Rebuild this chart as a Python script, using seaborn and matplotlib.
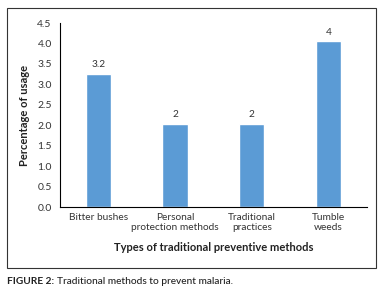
import numpy as np
import pandas as pd
import matplotlib

matplotlib.use("Agg")
import matplotlib.pyplot as plt
import seaborn as sns
from matplotlib.patches import Rectangle

methods = ["Bitter bushes", "Personal\nprotection methods", "Traditional\npractices", "Tumble\nweeds"]
usage = [3.25, 2.03, 2.03, 4.05]
value_labels = ["3.2", "2", "2", "4"]
y_ticks = [0.0, 0.5, 1.0, 1.5, 2.0, 2.5, 3.0, 3.5, 4.0, 4.5]

sns.set_theme(style="white")
plt.rcParams["font.family"] = ["Lato", "DejaVu Sans"]

df = pd.DataFrame({"method": methods, "usage": usage})

fig = plt.figure(figsize=(3.85, 2.95), dpi=100)
ax = fig.add_axes([0.156, 0.298, 0.797, 0.624])

sns.barplot(data=df, x="method", y="usage", color="#5B9BD5", width=0.33,
            saturation=1, ax=ax)

for i, (v, lab) in enumerate(zip(usage, value_labels)):
    ax.text(i, v + 0.12, lab, ha="center", va="bottom", fontsize=7.3, color="#333333")

ax.set_ylim(0, 4.5)
ax.set_xlim(-0.5, 3.5)
ax.set_yticks(y_ticks)
ax.set_yticklabels([f"{t:.1f}" for t in y_ticks], fontsize=7.5, color="#333333")

# category labels on minor ticks, tick marks at category boundaries
ax.set_xticks(np.arange(-0.5, 4, 1))
ax.set_xticklabels([])
ax.set_xticks(range(len(methods)), minor=True)
ax.set_xticklabels(methods, minor=True, fontsize=7.3, color="#333333", linespacing=1.25)
ax.tick_params(axis="x", which="minor", length=0, pad=4)
ax.tick_params(axis="x", which="major", length=4, width=0.8, color="black", direction="out")
ax.tick_params(axis="y", length=4, width=0.8, color="black", direction="out", pad=2)

for s in ["top", "right"]:
    ax.spines[s].set_visible(False)
for s in ["left", "bottom"]:
    ax.spines[s].set_color("black")
    ax.spines[s].set_linewidth(0.8)

ax.set_xlabel("Types of traditional preventive methods", fontsize=8, fontweight="bold",
              color="#222222", labelpad=7)
ax.set_ylabel("Percentage of usage", fontsize=8, fontweight="bold", color="#222222",
              labelpad=5)

fig.patches.append(Rectangle((7 / 385, 1 - 268 / 295), 369 / 385, 260 / 295,
                             transform=fig.transFigure, fill=False,
                             edgecolor="#333333", linewidth=0.8))

cap1 = fig.text(7 / 385, 1 - 281 / 295, "FIGURE 2:", fontsize=7.3, fontweight="bold",
                color="#222222", va="center")
fig.canvas.draw()
bb = cap1.get_window_extent(fig.canvas.get_renderer())
fig.text((bb.x1 + 3) / 385, 1 - 281 / 295, "Traditional methods to prevent malaria.",
         fontsize=7.3, fontweight="medium", color="#222222", va="center")

fig.savefig("out.png", dpi=100)
